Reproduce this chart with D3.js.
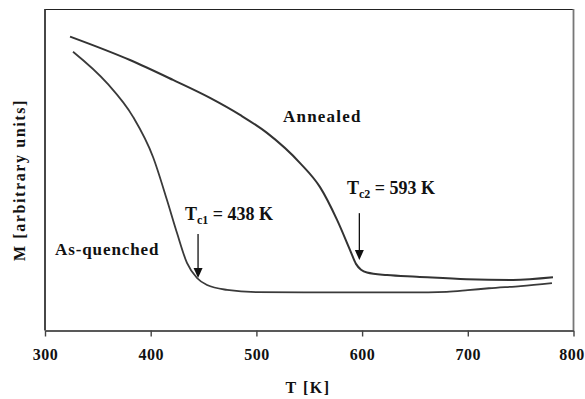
<!DOCTYPE html>
<html>
<head>
<meta charset="utf-8">
<script src="https://cdn.jsdelivr.net/npm/d3@7/dist/d3.min.js"></script>
<style>
  body { margin: 0; background: #fff; }
  svg { display: block; }
  text { font-family: "Liberation Serif", "Times New Roman", serif; font-weight: bold; fill: #111; }
</style>
</head>
<body>
<svg id="chart" width="585" height="399"></svg>
<script>
// Temperature ticks
const xTicks = [300, 400, 500, 600, 700, 800];

// Annealed curve: temperature (K) and magnetisation (arbitrary units)
const annealedT = [323.7, 380.4, 421.1, 456.1, 484.5, 510.0, 541.3, 560.2, 576.3, 588.6, 594.2, 599.0, 604.6, 623.6, 651.7, 699.0, 742.8, 780.6];
const annealedM = [91.4, 84.1, 77.9, 72.3, 67.0, 61.4, 52.0, 44.5, 34.3, 24.9, 20.6, 18.8, 17.9, 17.1, 16.6, 15.8, 15.6, 16.4];

// As-quenched curve
const quenchedT = [326.5, 358.7, 383.3, 402.2, 415.4, 424.9, 434.3, 443.8, 453.3, 472.2, 500.6, 566.8, 645.3, 680.0, 700.0, 720.0, 750.0, 779.6];
const quenchedM = [86.7, 76.9, 66.4, 53.9, 40.5, 30.2, 20.9, 16.2, 14.0, 12.5, 11.8, 11.7, 11.7, 11.9, 12.4, 13.0, 13.7, 14.6];

// Curie temperature markers: arrow x (K), arrow top and tip (M)
const arrowT = [444.8, 597.4];
const arrowTopM = [29.9, 36.4];
const arrowTipM = [16.2, 21.8];
const tcSub = ["c1", "c2"];
const tcValue = [" = 438 K", " = 593 K"];

const svg = d3.select("#chart");
const x = d3.scaleLinear().domain([300, 800]).range([45, 573.5]);
const y = d3.scaleLinear().domain([0, 100]).range([330, 9]);

// frame
svg.append("line").attr("x1", 45).attr("x2", 573.5).attr("y1", 9.5).attr("y2", 9.5)
  .attr("stroke", "#222").attr("stroke-width", 1.2);
svg.append("line").attr("x1", 573.5).attr("x2", 573.5).attr("y1", 9).attr("y2", 330)
  .attr("stroke", "#777").attr("stroke-width", 1.8);
svg.append("line").attr("x1", 45).attr("x2", 45).attr("y1", 9).attr("y2", 330.5)
  .attr("stroke", "#333").attr("stroke-width", 1.8);

// x axis
const xAxis = svg.append("g").attr("transform", "translate(0,330.5)")
  .call(d3.axisBottom(x).tickValues(xTicks).tickSize(6).tickSizeOuter(0).tickPadding(12).tickFormat(d3.format("d")));
xAxis.select(".domain").attr("stroke", "#222").attr("stroke-width", 1.6);
xAxis.selectAll(".tick line").attr("stroke", "#444").attr("stroke-width", 1.4);
xAxis.selectAll(".tick text").attr("font-size", 16).attr("font-family", "Liberation Serif")
  .attr("font-weight", "bold").attr("fill", "#111").attr("letter-spacing", 0.5)
  .attr("dx", d => d === 800 ? -2 : 0);

// curves
const line = d3.line().x(d => x(d[0])).y(d => y(d[1])).curve(d3.curveMonotoneX);
svg.append("path").datum(annealedT.map((t, i) => [t, annealedM[i]]))
  .attr("d", line).attr("fill", "none").attr("stroke", "#333").attr("stroke-width", 2);
svg.append("path").datum(quenchedT.map((t, i) => [t, quenchedM[i]]))
  .attr("d", line).attr("fill", "none").attr("stroke", "#3a3a3a").attr("stroke-width", 1.8);

// arrows
arrowT.forEach((t, i) => {
  const ax = x(t), top = y(arrowTopM[i]), tip = y(arrowTipM[i]);
  svg.append("line").attr("x1", ax).attr("x2", ax).attr("y1", top).attr("y2", tip - 9)
    .attr("stroke", "#111").attr("stroke-width", 1.3);
  svg.append("path").attr("d", `M${ax - 4.5},${tip - 10} L${ax + 4.5},${tip - 10} L${ax},${tip} Z`)
    .attr("fill", "#111");
});

// Tc labels
const tcPos = [[185, 220], [347, 194]];
tcPos.forEach((p, i) => {
  const t = svg.append("text").attr("x", p[0]).attr("y", p[1]).attr("font-size", 18);
  t.append("tspan").text("T");
  t.append("tspan").attr("font-size", 12).attr("dy", 4).text(tcSub[i]);
  t.append("tspan").attr("dy", -4).text(tcValue[i]);
});

// curve labels
svg.append("text").attr("x", 283).attr("y", 122).attr("font-size", 17).attr("letter-spacing", 1.2).text("Annealed");
svg.append("text").attr("x", 55).attr("y", 255).attr("font-size", 17).attr("letter-spacing", 0.9).text("As-quenched");

// axis titles
svg.append("text").attr("x", 308).attr("y", 393).attr("text-anchor", "middle")
  .attr("font-size", 16).attr("letter-spacing", 1.5).text("T [K]");
svg.append("text").attr("transform", "translate(25,180) rotate(-90)").attr("text-anchor", "middle")
  .attr("font-size", 16).attr("letter-spacing", 1.6).text("M [arbitrary units]");
</script>
</body>
</html>
